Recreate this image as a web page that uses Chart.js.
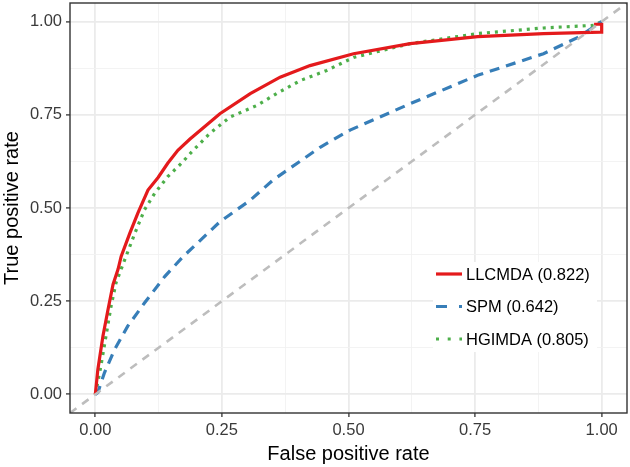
<!DOCTYPE html>
<html>
<head>
<meta charset="utf-8">
<script src="https://cdn.jsdelivr.net/npm/chart.js@4.4.0/dist/chart.umd.min.js"></script>
<style>
html, body { margin: 0; padding: 0; background: #fff; }
#wrap { width: 630px; height: 467px; }
</style>
</head>
<body>
<div id="wrap"><canvas id="roc" width="630" height="467"></canvas></div>
<script>
// ROC curves (false positive rate, true positive rate)
const fprLLCMDA = [0, 0.005, 0.015, 0.025, 0.035, 0.045, 0.051, 0.068, 0.084, 0.104, 0.124, 0.143, 0.163, 0.187, 0.246, 0.306, 0.365, 0.424, 0.51, 0.622, 0.755, 0.885, 0.998, 1.0, 1.0, 0.985]
const tprLLCMDA = [0, 0.067, 0.156, 0.227, 0.295, 0.336, 0.37, 0.432, 0.486, 0.548, 0.582, 0.62, 0.655, 0.685, 0.753, 0.807, 0.851, 0.882, 0.914, 0.941, 0.96, 0.968, 0.972, 0.972, 0.993, 0.993]

const fprSPM = [0, 0.005, 0.018, 0.038, 0.064, 0.097, 0.137, 0.173, 0.246, 0.306, 0.351, 0.444, 0.503, 0.622, 0.755, 0.885, 0.952, 1.0]
const tprSPM = [0, 0.005, 0.058, 0.12, 0.183, 0.245, 0.316, 0.369, 0.463, 0.521, 0.575, 0.663, 0.709, 0.78, 0.856, 0.914, 0.957, 1.0]

const fprHGIMDA = [0, 0.002, 0.011, 0.021, 0.031, 0.041, 0.058, 0.078, 0.097, 0.117, 0.143, 0.17, 0.19, 0.226, 0.266, 0.319, 0.358, 0.405, 0.457, 0.51, 0.622, 0.755, 0.885, 0.984, 1.0]
const tprHGIMDA = [0, 0.013, 0.076, 0.156, 0.236, 0.30, 0.361, 0.432, 0.495, 0.539, 0.584, 0.62, 0.65, 0.70, 0.744, 0.775, 0.807, 0.842, 0.869, 0.904, 0.941, 0.968, 0.983, 0.99, 1.0]

const diagonal = [-0.05, 1.05]

const seriesNames = ['LLCMDA (0.822)', 'SPM (0.642)', 'HGIMDA (0.805)']

const tickValues = [0, 0.25, 0.5, 0.75, 1]
const tickLabels = ['0.00', '0.25', '0.50', '0.75', '1.00']
const minorValues = [0.125, 0.375, 0.625, 0.875]


function toPoints(xs, ys) {
    return xs.map((x, i) => ({ x: x, y: ys[i] }))
}

function isMajor(v) {
    return tickValues.some(t => Math.abs(t - v) < 1e-9)
}

const allGrid = tickValues.concat(minorValues).sort((a, b) => a - b)


// Panel border + legend drawn inside the plot
const panelPlugin = {
    id: 'panel',
    afterDraw(chart) {
        const ctx = chart.ctx
        const a = chart.chartArea
        ctx.save()

        ctx.strokeStyle = '#333333'
        ctx.lineWidth = 1.4
        ctx.strokeRect(a.left, a.top, a.right - a.left, a.bottom - a.top)

        // legend box
        ctx.fillStyle = '#ffffff'
        ctx.fillRect(433, 262, 164, 90)

        const rows = [274, 306.5, 339]
        chart.data.datasets.filter(d => d.legendKey).forEach((d, i) => {
            const y = rows[i]
            ctx.beginPath()
            ctx.strokeStyle = d.borderColor
            ctx.lineWidth = d.borderWidth
            ctx.setLineDash(d.legendDash)
            ctx.moveTo(436, y)
            ctx.lineTo(462, y)
            ctx.stroke()
            ctx.setLineDash([])

            ctx.fillStyle = '#000000'
            ctx.font = '16.5px "Liberation Sans", Arial, sans-serif'
            ctx.textBaseline = 'middle'
            ctx.textAlign = 'left'
            ctx.fillText(d.label, 466, y + 1)
        })
        ctx.restore()
    }
}


function axis(title, isY) {
    return {
        type: 'linear',
        min: -0.05,
        max: 1.05,
        afterBuildTicks(scale) {
            scale.ticks = allGrid.map(v => ({ value: v }))
        },
        afterFit(scale) {
            if (isY) {
                scale.width = 70
                scale.paddingTop = 0
                scale.paddingBottom = 0
            } else {
                scale.height = 54
            }
        },
        ticks: {
            autoSkip: false,
            maxRotation: 0,
            padding: 4,
            color: '#3a3a3a',
            font: { family: '"Liberation Sans", Arial, sans-serif', size: 16.5 },
            callback: function(value) {
                const i = tickValues.findIndex(t => Math.abs(t - value) < 1e-9)
                return i >= 0 ? tickLabels[i] : ''
            }
        },
        grid: {
            drawTicks: true,
            tickLength: 4,
            color: c => isMajor(c.tick.value) ? '#ebebeb' : '#f2f2f2',
            lineWidth: c => isMajor(c.tick.value) ? 1.8 : 0.9,
            tickColor: c => isMajor(c.tick.value) ? '#333333' : 'rgba(0,0,0,0)',
            tickWidth: 1.3
        },
        border: { display: false },
        title: {
            display: true,
            text: title,
            color: '#000000',
            font: { family: '"Liberation Sans", Arial, sans-serif', size: 20 },
            padding: { top: 0, bottom: 1 }
        }
    }
}


const ctx = document.getElementById('roc').getContext('2d')

new Chart(ctx, {
    type: 'line',
    data: {
        datasets: [
            {
                label: 'diagonal',
                data: toPoints(diagonal, diagonal),
                borderColor: '#bdbdbd',
                borderWidth: 2.6,
                borderDash: [8, 7],
                pointRadius: 0
            },
            {
                label: seriesNames[0],
                data: toPoints(fprLLCMDA, tprLLCMDA),
                borderColor: '#e41a1c',
                borderWidth: 3.2,
                pointRadius: 0,
                legendKey: true,
                legendDash: []
            },
            {
                label: seriesNames[1],
                data: toPoints(fprSPM, tprSPM),
                borderColor: '#377eb8',
                borderWidth: 3.2,
                borderDash: [10, 7],
                pointRadius: 0,
                legendKey: true,
                legendDash: [11, 12]
            },
            {
                label: seriesNames[2],
                data: toPoints(fprHGIMDA, tprHGIMDA),
                borderColor: '#4daf4a',
                borderWidth: 3.2,
                borderDash: [3, 5],
                pointRadius: 0,
                legendKey: true,
                legendDash: [3, 8.7]
            }
        ]
    },
    options: {
        responsive: false,
        animation: false,
        layout: { padding: { top: 3, right: 3, left: 0, bottom: 0 } },
        plugins: {
            legend: { display: false },
            tooltip: { enabled: false }
        },
        elements: { line: { tension: 0, fill: false } },
        scales: {
            x: axis('False positive rate', false),
            y: axis('True positive rate', true)
        }
    },
    plugins: [panelPlugin]
})
</script>
</body>
</html>
